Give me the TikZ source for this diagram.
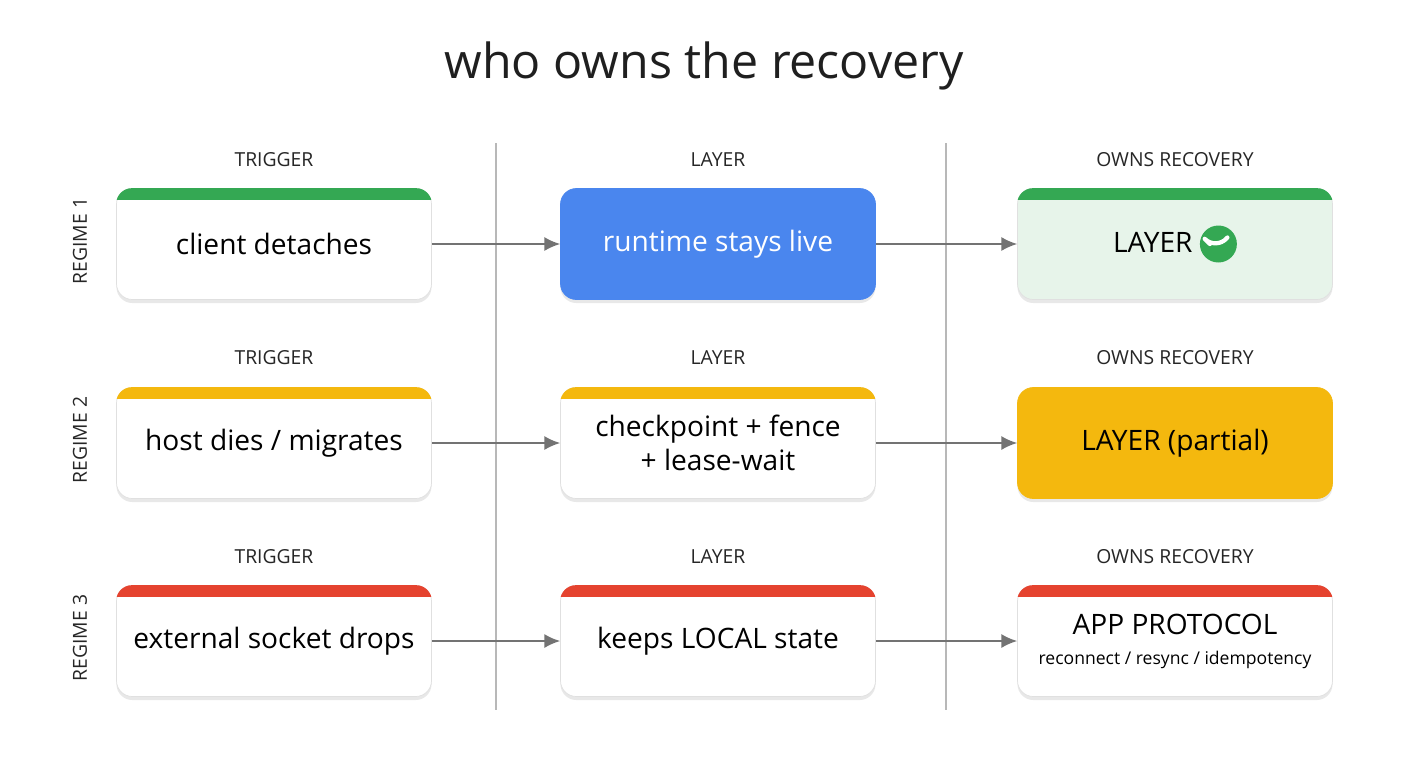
\documentclass[tikz,border=0pt]{standalone}
\usepackage{fontspec}
\setmainfont{Open Sans}
\usetikzlibrary{shadows,arrows.meta}
\definecolor{gGreen}{HTML}{34A853}
\definecolor{gBlue}{HTML}{4A86EE}
\definecolor{gYellow}{HTML}{F4B80E}
\definecolor{gRed}{HTML}{E5432F}
\definecolor{gMint}{HTML}{E7F4EA}
\definecolor{rule}{HTML}{B8B8B8}
\tikzset{
  card/.style={draw=black!12, rounded corners=9pt, minimum width=315*0.02cm,
    minimum height=111*0.02cm, align=center, font=\fontsize{16}{19}\selectfont,
    drop shadow={shadow xshift=0pt, shadow yshift=-2pt, opacity=.18}},
  head/.style={font=\fontsize{11}{13}\selectfont, text=black!85},
  regime/.style={rotate=90, font=\fontsize{11}{13}\selectfont, text=black!85},
  link/.style={draw=black!55, line width=1pt, -{Latex[length=9pt,width=8pt]}}
}
% card with a coloured top strip
\newcommand{\card}[6]{%
  \node[card, fill=#5] (#1) at (#2,#3) {#6};
  \begin{scope}
    \clip (#1.north west) rectangle ([yshift=-11*0.02cm]#1.north east);
    \fill[#4, rounded corners=9pt] (#1.south west) rectangle (#1.north east);
  \end{scope}
}
\newcommand{\okmark}{\tikz[baseline=-5pt, x=1cm, y=1cm]{\fill[gGreen] (0,0) circle (0.37cm);
  \draw[white, line width=2.4pt, line cap=round, line join=round] (-0.17,0) -- (-0.05,-0.12) -- (0.18,0.13);}}
\begin{document}
\begin{tikzpicture}[x=0.02cm, y=-0.02cm]
\useasboundingbox[fill=white] (0,0) rectangle (1408,768);
\node[font=\fontsize{27.5}{32}\selectfont, text=black!88] (title) at (704,66) {who owns the recovery};

\draw[rule, line width=1pt] (496,143) coordinate (s1) -- (496,710) coordinate (s2);
\draw[rule, line width=1pt] (946,143) coordinate (s3) -- (946,710) coordinate (s4);

% headers
\foreach \y/\n in {160/1, 358/2, 557/3} {
  \node[head] (trig\n) at (274,\y) {TRIGGER};
  \node[head] (lay\n) at (718,\y) {LAYER};
  \node[head] (own\n) at (1175,\y) {OWNS RECOVERY};
}
\node[regime] (reg1) at (80,241) {REGIME 1};
\node[regime] (reg2) at (80,440) {REGIME 2};
\node[regime] (reg3) at (80,638) {REGIME 3};

% regime 1
\card{t1}{274}{244}{gGreen}{white}{client detaches}
\node[card, fill=gBlue, draw=gBlue, text=white] (l1) at (718,244) {runtime stays live};
\card{o1}{1175}{244}{gGreen}{gMint}{LAYER \okmark}

% regime 2
\card{t2}{274}{443}{gYellow}{white}{host dies / migrates}
\card{l2}{718}{443}{gYellow}{white}{checkpoint + fence\\+ lease-wait}
\node[card, fill=gYellow, draw=gYellow] (o2) at (1175,443) {LAYER (partial)};

% regime 3
\card{t3}{274}{641}{gRed}{white}{external socket drops}
\card{l3}{718}{641}{gRed}{white}{keeps LOCAL state}
\card{o3}{1175}{641}{gRed}{white}{APP PROTOCOL\\[-2pt]{\fontsize{10}{12}\selectfont reconnect / resync / idempotency}}

\foreach \n in {1,2,3} {
  \draw[link] (t\n) -- (l\n);
  \draw[link] (l\n) -- (o\n);
}
\end{tikzpicture}
\end{document}
